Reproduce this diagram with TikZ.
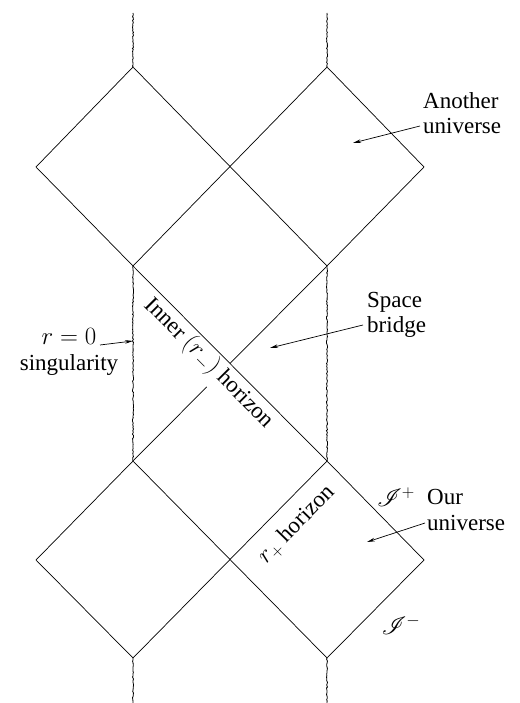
\documentclass[tikz,border=0pt]{standalone}
\usepackage{fontspec}
\setmainfont{Liberation Serif}
\usepackage{mathrsfs}
\usetikzlibrary{arrows.meta,calc,decorations.pathmorphing}

\begin{document}
\begin{tikzpicture}[
  x=1pt, y=1pt, font=\fontsize{23}{25.5}\selectfont,
  edge/.style={line width=0.7pt, line join=miter},
  sing/.style={line width=0.8pt, decorate,
               decoration={random steps, segment length=1.6pt, amplitude=0.55pt}},
  lbl/.style={align=left, inner sep=0pt},
  hor/.style={inner sep=0pt},
  ar/.style={-{Stealth[length=8pt, width=3.6pt]}, line width=0.7pt},
]
\useasboundingbox (0,0) rectangle (519,703);

% ---------------------------------------------------------------- corners
\coordinate (sT1) at (133,690);
\coordinate (sT2) at (327,690);
\coordinate (uT1) at (133,636);
\coordinate (uT2) at (327,636);
\coordinate (uL)  at (36,536);
\coordinate (uR)  at (424,536);
\coordinate (uB1) at (133,437);
\coordinate (uB2) at (327,437);
\coordinate (mC)  at (230,339.5);
\coordinate (lT1) at (133,242);
\coordinate (lT2) at (327,242);
\coordinate (lL)  at (36,143);
\coordinate (lC)  at (230,143);
\coordinate (lR)  at (424,143);
\coordinate (lB1) at (133,45);
\coordinate (lB2) at (327,45);
\coordinate (sB1) at (133,0);
\coordinate (sB2) at (327,0);

% ---------------------------------------------------------------- singularities
\draw[sing] (sT1) -- (uT1);
\draw[sing] (sT2) -- (uT2);
\draw[sing] (uB1) -- (lT1);
\draw[sing] (uB2) -- (lT2);
\draw[sing] (lB1) -- (sB1);
\draw[sing] (lB2) -- (sB2);

% ---------------------------------------------------------------- diamonds
\draw[edge] (uL) -- (uT1) -- (uB2) -- (uR) -- (uT2) -- (uB1) -- cycle;
\draw[edge] (lL) -- (lT1) -- (lB2) -- (lR) -- (lT2) -- (lB1) -- cycle;

% ---------------------------------------------------------------- inner horizons
\draw[edge] (uB1) -- (lT2);
\draw[edge] (uB2) -- (mC);
\draw[edge] ($(mC)!0.24!(lT1)$) -- (lT1);
\node[hor, rotate=-45.1] (inner) at (209,340) {Inner $(r_-)$ horizon};
\node[hor, rotate=45.6] (outer) at (297,178) {$r_+$ horizon};

% ---------------------------------------------------------------- labels
\node[lbl, anchor=west] (another) at (423,590) {Another\\universe};
\node[lbl, anchor=west] (bridge) at (367,388) {Space\\bridge};
\node[align=center, inner sep=0pt] (singl) at (69,351) {$r=0$\\singularity};
\node[lbl, anchor=west] (ours) at (427,193) {Our\\universe};
\node (scrp) at (396,206) {$\mathscr{I}^+$};
\node (scrm) at (401,78) {$\mathscr{I}^-$};

% ---------------------------------------------------------------- arrows
\coordinate (anotherpt) at (353,560);
\coordinate (bridgept) at (270,355);
\coordinate (singpt) at (133,362);
\coordinate (ourpt) at (367,161);
\draw[ar] ([xshift=-3pt,yshift=-13pt]another.west) -- (anotherpt);
\draw[ar] ([xshift=-4pt,yshift=-10pt]bridge.west) -- (bridgept);
\draw[ar] ($(singl.center)+(31,7)$) -- (singpt);
\draw[ar] ([xshift=-2pt,yshift=-13pt]ours.west) -- (ourpt);

\end{tikzpicture}
\end{document}
